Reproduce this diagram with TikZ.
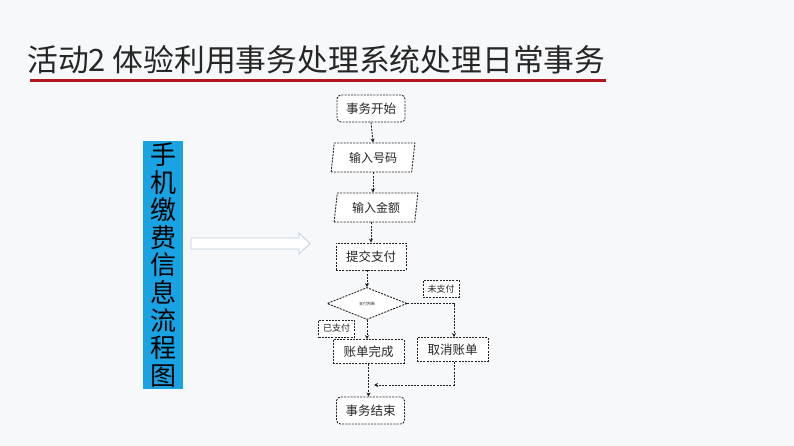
\documentclass[tikz,border=0pt]{standalone}
\usepackage{fontspec}
\newfontfamily\cjk{Noto Sans CJK SC}
\usetikzlibrary{shapes.geometric,arrows.meta}
\definecolor{bgc}{RGB}{247,248,250}
\definecolor{titred}{RGB}{178,22,30}
\definecolor{boxblue}{RGB}{25,163,226}
\definecolor{hollow}{RGB}{190,210,220}
\definecolor{flowline}{RGB}{35,35,35}
\tikzset{
  flow/.style={draw=flowline, dashed, dash pattern=on 2pt off 1.2pt, line width=0.9pt, font=\cjk\fontsize{12.5}{12.5}\selectfont, inner sep=0pt, fill=white, text=black!85},
  termbox/.style={flow, rounded corners=4pt, minimum width=68pt, minimum height=27pt},
  procbox/.style={flow, minimum width=71pt, minimum height=24pt},
  iobox/.style={flow, trapezium, trapezium left angle=80, trapezium right angle=100, trapezium stretches=true, minimum width=84pt, minimum height=29pt, font=\cjk\fontsize{12}{12}\selectfont},
  decbox/.style={flow, diamond, aspect=2.4, minimum width=80pt, minimum height=32pt, font=\cjk\fontsize{4}{4}\selectfont},
  tagbox/.style={flow, minimum width=36pt, minimum height=17pt, font=\cjk\fontsize{9}{9}\selectfont},
  conn/.style={draw=flowline, dashed, dash pattern=on 2pt off 1.2pt, line width=0.9pt, -{Stealth[length=4pt,width=4pt]}},
}
\begin{document}
\begin{tikzpicture}[x=1pt,y=-1pt]
\useasboundingbox (0,0) rectangle (794,446);
\fill[bgc] (0,0) rectangle (794,446);
% title
\node[anchor=west, inner sep=0pt, font=\cjk\fontsize{30.8}{31}\selectfont, text=black!85] (title) at (27,60) {活动2 体验利用事务处理系统处理日常事务};
\draw[titred, line width=3pt] (30,80.5) -- (606,80.5);
% blue vertical label
\node[fill=boxblue, minimum width=40pt, minimum height=248pt, inner sep=0pt, align=center, font=\cjk\fontsize{26}{27.6}\selectfont, text=black] (lbl) at (163,265) {手\\机\\缴\\费\\信\\息\\流\\程\\图};
% hollow arrow
\draw[hollow, fill=white, line width=0.8pt] (191,238) -- (299,238) -- (299,233) -- (310,243.5) -- (299,254) -- (299,249) -- (191,249) -- cycle;
% flowchart
\node[termbox] (start) at (371,108.5) {事务开始};
\node[iobox] (num) at (373,157.5) {输入号码};
\node[iobox] (amt) at (376,207.5) {输入金额};
\node[procbox, minimum width=70pt, minimum height=27pt] (sub) at (371,256.5) {提交支付};
\node[decbox] (dec) at (367,303.5) {支付判断};
\node[tagbox] (unpaid) at (441,289) {未支付};
\node[tagbox] (paid) at (336.5,328.5) {已支付};
\node[procbox] (done) at (368.5,351.5) {账单完成};
\node[procbox] (cancel) at (452.5,349.5) {取消账单};
\node[termbox] (end) at (370.5,410.5) {事务结束};
\coordinate (corner) at (454,303.5);
\coordinate (join) at (454,385);
\coordinate (joinend) at (374,385);
\draw[conn] (start.south) -- (num.south |- num.north);
\draw[conn] (num.south) -- (num.south |- amt.north);
\draw[conn] (amt.south -| sub.south) -- (sub.north);
\draw[conn] (sub.south -| dec.north) -- (dec.north);
\draw[conn] (dec.south) -- (dec.south |- done.north);
\draw[conn] (dec.east) -- (corner) -- (corner |- cancel.north);
\draw[conn] (done.south) -- (done.south |- end.north);
\draw[conn] (cancel.south -| join) -- (join) -- (joinend);
\end{tikzpicture}
\end{document}
